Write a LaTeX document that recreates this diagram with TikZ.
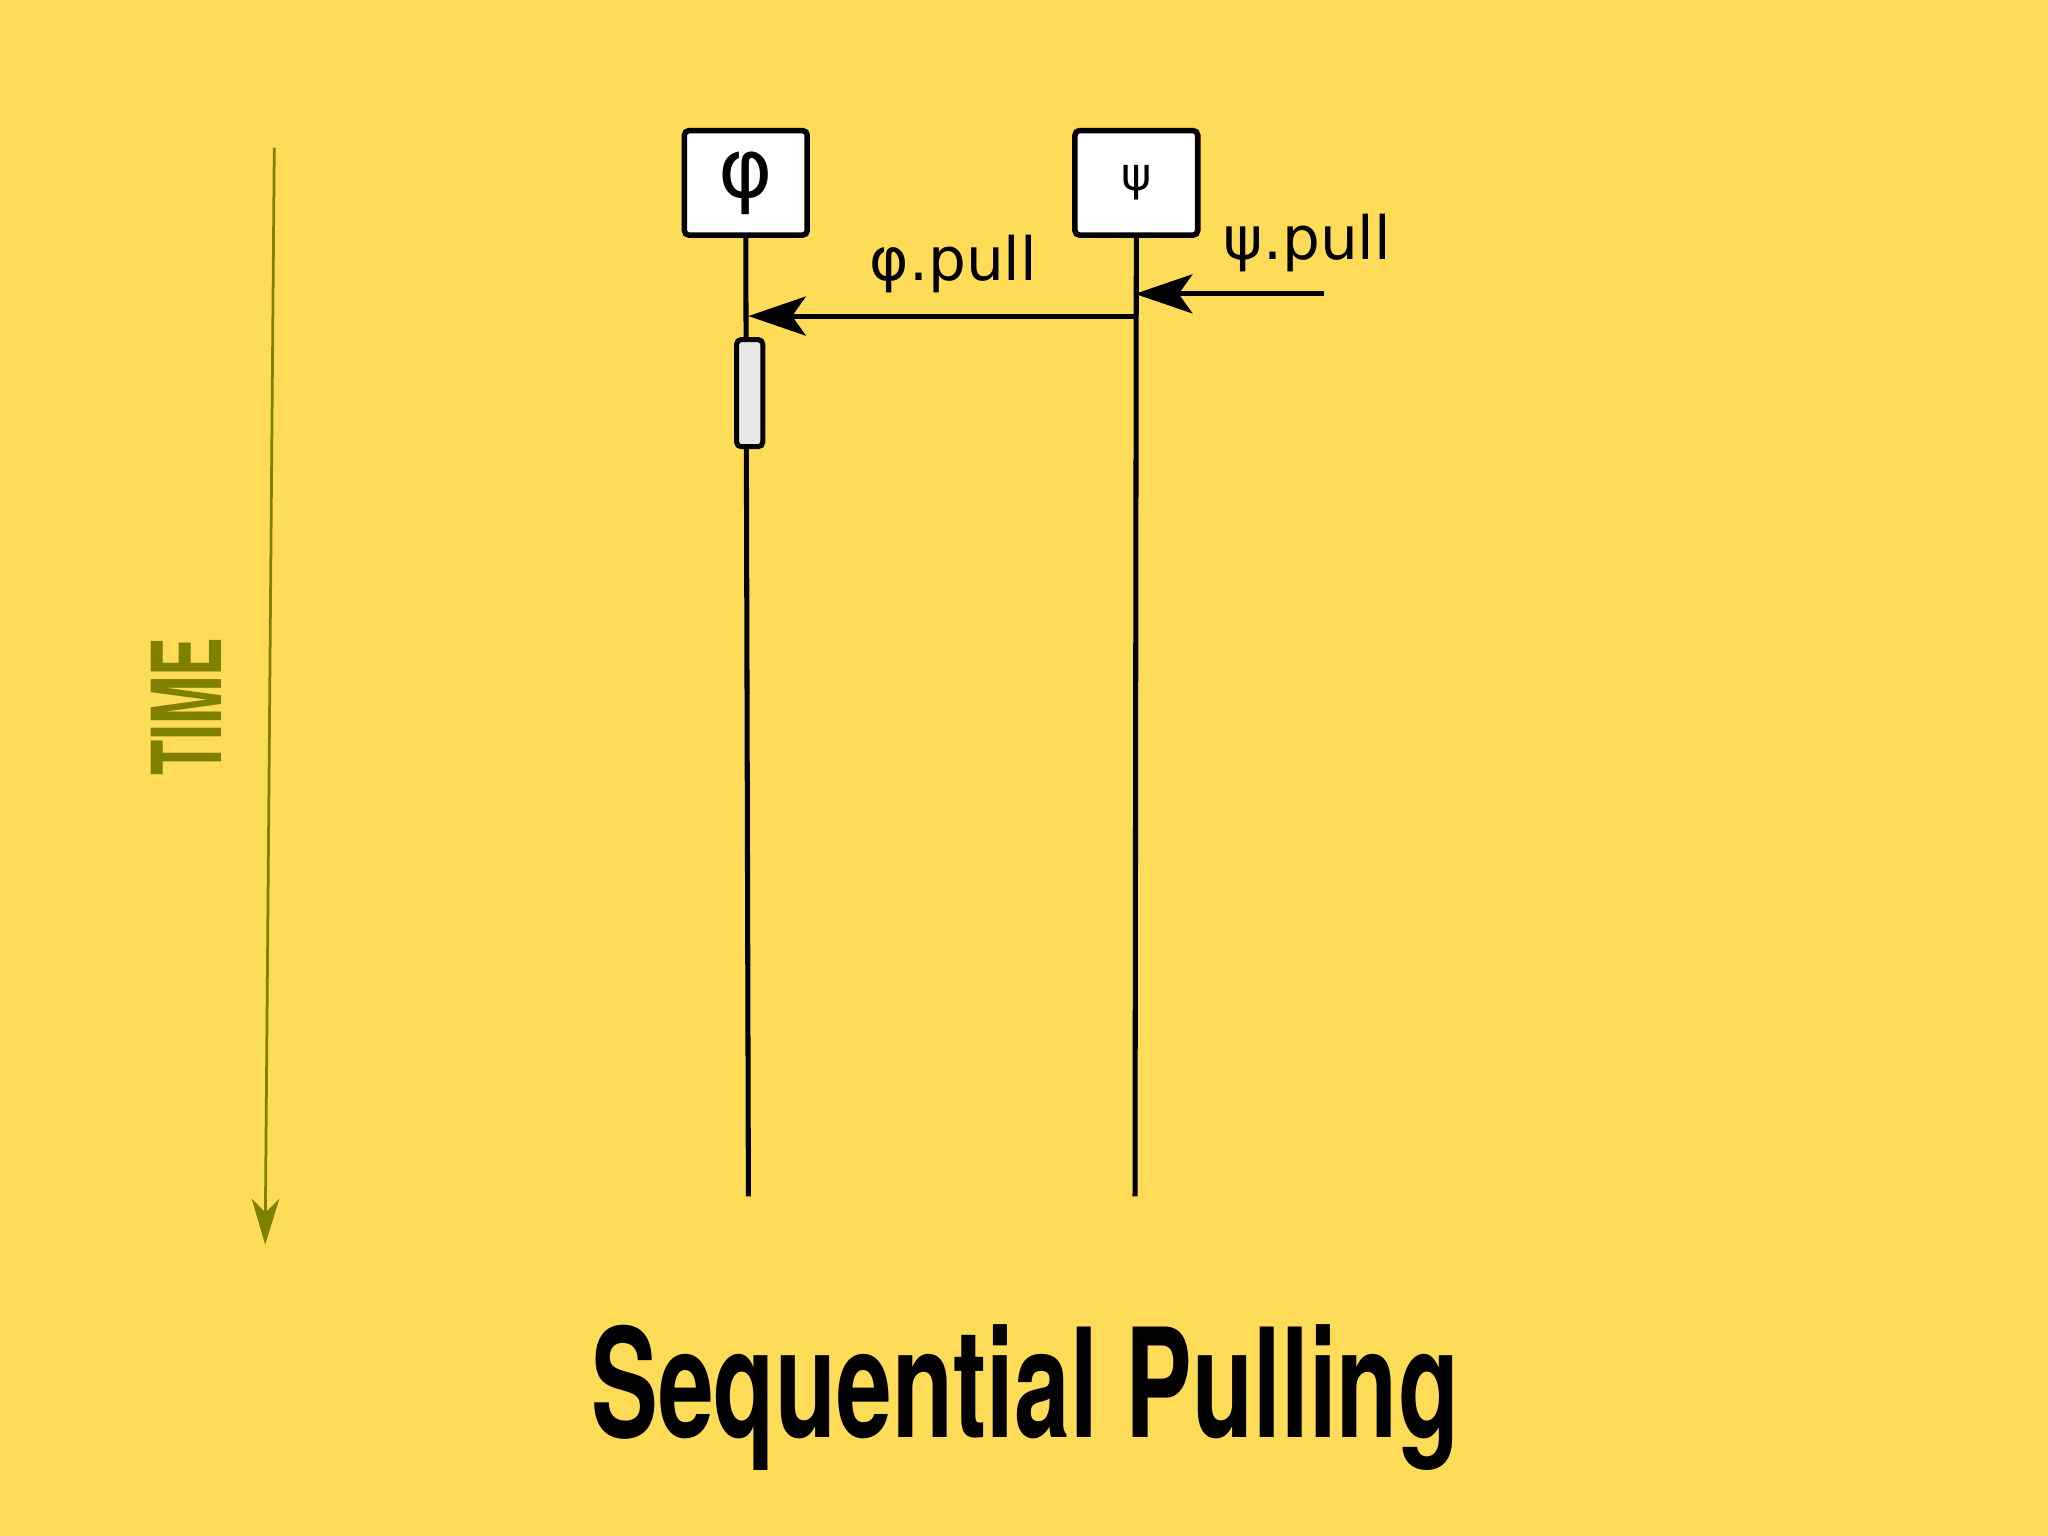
\documentclass[tikz,border=0pt]{standalone}
\usepackage{fontspec}
\setmainfont{DejaVu Sans}
\newfontfamily\titlefont{TeX Gyre Heros}
\usetikzlibrary{arrows.meta}
\definecolor{mustard}{RGB}{255,220,88}
\definecolor{timeolive}{RGB}{128,128,0}
\definecolor{actgray}{RGB}{230,230,230}
\tikzstyle{object} = [rectangle, rounded corners=1pt, minimum width=0.94cm, minimum height=0.80cm, inner sep=0pt, draw=black, line width=1.2pt, fill=white]
\tikzstyle{activation} = [rectangle, rounded corners=1pt, minimum width=0.2cm, minimum height=0.82cm, inner sep=0pt, draw=black, line width=1.1pt, fill=actgray]
\tikzstyle{lifeline} = [line width=1.1pt]
\tikzstyle{message} = [line width=1.1pt, -{Stealth[length=12.5pt,width=8.5pt,inset=3pt]}]
\tikzstyle{timearrow} = [line width=0.6pt, draw=timeolive, -{Stealth[length=10pt,width=6pt,inset=3pt]}, color=timeolive]

\begin{document}
\begin{tikzpicture}[x=0.01cm, y=-0.01cm]
\fill[mustard] (0,0) rectangle (1568,1176);
\useasboundingbox (0,0) rectangle (1568,1176);
% objects
\node (phi) [object] at (571,140) {\fontsize{18}{20}\selectfont φ};
\node (psi) [object] at (870,140) {\fontsize{10}{12}\selectfont ψ};
\coordinate (phiend) at (573,916);
\coordinate (psiend) at (869,916);
\draw [lifeline] (phi.south) -- (phiend);
\draw [lifeline] (psi.south) -- (psiend);
\node (act) [activation] at (574,301) {};
% messages
\coordinate (psiin) at (1014,225);
\coordinate (psirecv) at (869,225);
\coordinate (phisend) at (869,242);
\coordinate (phirecv) at (573,242);
\draw [message] (psiin) -- (psirecv);
\draw [message] (phisend) -- (phirecv);
\node (phipull) at (730,202) {\fontsize{13}{15}\selectfont φ.pull};
\node (psipull) at (1001,186) {\fontsize{13}{15}\selectfont ψ.pull};
% time
\coordinate (tstart) at (210,113);
\coordinate (tend) at (203,953);
\draw [timearrow] (tstart) -- (tend);
\node (time) [rotate=90, text=timeolive, xscale=0.6] at (143,541) {\fontsize{21}{23}\selectfont\titlefont\bfseries TIME};
% title
\node (title) [xscale=0.66] at (785,1070) {\fontsize{33}{36}\selectfont\titlefont\bfseries Sequential Pulling};
\end{tikzpicture}
\end{document}
